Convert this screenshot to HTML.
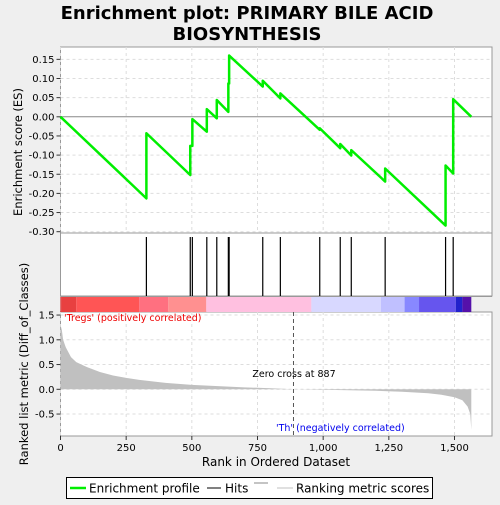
<!DOCTYPE html>
<html><head><meta charset="utf-8"><style>
body{margin:0;background:#efefef;font-family:"Liberation Sans","DejaVu Sans",sans-serif}
</style></head><body>
<svg id="c" width="500" height="500" xmlns="http://www.w3.org/2000/svg" font-family="DejaVu Sans, Liberation Sans, sans-serif">
<rect width="500" height="500" fill="#efefef"/>
<text x="247" y="19" text-anchor="middle" font-size="18" font-weight="bold">Enrichment plot: PRIMARY BILE ACID</text>
<text x="247" y="40" text-anchor="middle" font-size="18" font-weight="bold">BIOSYNTHESIS</text>
<g id="g"></g>
</svg>
<script>
const hitRanks=[327,494,502,557,595,639,642,770,837,987,1065,1107,1236,1466,1495];
const esBefore=[-0.213,-0.152,-0.076,-0.039,-0.004,0.013,0.087,0.079,0.048,-0.034,-0.082,-0.101,-0.169,-0.284,-0.148];
const esAfter=[-0.043,-0.076,-0.006,0.020,0.044,0.087,0.160,0.094,0.061,-0.030,-0.071,-0.087,-0.135,-0.127,0.046];
const nGenes=1564;
const metricRanks=[0,5,10,20,40,60,100,150,200,250,300,400,500,600,700,800,887,1000,1100,1200,1300,1400,1450,1500,1530,1550,1560,1564];
const metricVals=[1.3,1.2,1.0,0.85,0.65,0.55,0.45,0.35,0.28,0.23,0.19,0.13,0.09,0.065,0.04,0.02,0,-0.01,-0.02,-0.03,-0.05,-0.08,-0.11,-0.16,-0.22,-0.35,-0.5,-0.82];
const xTicks=[0,250,500,750,1000,1250,1500];
const xTickLabels=["0","250","500","750","1,000","1,250","1,500"];
const esTicks=[0.15,0.10,0.05,0.00,-0.05,-0.10,-0.15,-0.20,-0.25,-0.30];
const mTicks=[1.5,1.0,0.5,0.0,-0.5];
const heatStops=[0,3,60,300,410,555,955,1220,1310,1365,1505,1530];
const heatColors=["#cc0000","#e84040","#ff5555","#ff7080","#ff9090","#ffc0e0","#d8d8ff","#c0c0ff","#8888ff","#6655ee","#2222cc","#5511aa"];
const X0=60.5,X1=492,XS=394/1500;
const x=r=>X0+r*XS;
const ye=v=>116.8-v*383;
const ym=v=>389.3-v*49.5;
const g=document.getElementById('g');
const NS='http://www.w3.org/2000/svg';
function mk(t,a,p){const e=document.createElementNS(NS,t);for(const k in a)e.setAttribute(k,a[k]);(p||g).appendChild(e);return e;}
// panels
let p1=mk('rect',{x:X0,y:47,width:X1-X0,height:186,fill:'#fff',stroke:'#999'});

let p2=mk('rect',{x:X0,y:233,width:X1-X0,height:63,fill:'#fff',stroke:'#999'});

let p3=mk('rect',{x:X0,y:312,width:X1-X0,height:124,fill:'#fff',stroke:'#999'});

// grid
xTicks.forEach(t=>{
 let l=mk('line',{x1:x(t),x2:x(t),y1:47,y2:233,stroke:'#ddd','stroke-dasharray':'3,3'});
 
 let l2=mk('line',{x1:x(t),x2:x(t),y1:312,y2:436,stroke:'#ddd','stroke-dasharray':'3,3'});
 
 let tk=mk('line',{x1:x(t),x2:x(t),y1:436,y2:440,stroke:'#333'});
 
 let tx=mk('text',{x:x(t),y:451,'text-anchor':'middle','font-size':10});
 tx.textContent=xTickLabels[xTicks.indexOf(t)];
 
});
esTicks.forEach(t=>{
 let l=mk('line',{x1:X0,x2:X1,y1:ye(t),y2:ye(t),stroke:t===0?'#888':'#ddd','stroke-dasharray':t===0?'':'3,3'});
 
 let tk=mk('line',{x1:X0-4,x2:X0,y1:ye(t),y2:ye(t),stroke:'#333'});
 
 let tx=mk('text',{x:X0-6,y:ye(t)+3.5,'text-anchor':'end','font-size':10});
 tx.textContent=t.toFixed(2);
 
});
mTicks.forEach(t=>{
 let l=mk('line',{x1:X0,x2:X1,y1:ym(t),y2:ym(t),stroke:'#ddd','stroke-dasharray':'3,3'});
 
 let tk=mk('line',{x1:X0-4,x2:X0,y1:ym(t),y2:ym(t),stroke:'#333'});
 
 let tx=mk('text',{x:X0-6,y:ym(t)+3.5,'text-anchor':'end','font-size':10});
 tx.textContent=t.toFixed(1);
 
});
// heatmap
heatStops.forEach((s,i)=>{
 const e=i<heatStops.length-1?heatStops[i+1]:nGenes;
 let r=mk('rect',{x:x(s),y:297,width:x(e)-x(s),height:15,fill:heatColors[i]});
 
});
let hl=mk('line',{x1:X0,x2:X1,y1:296.5,y2:296.5,stroke:'#999'});

// hits
hitRanks.forEach(r=>{
 let l=mk('line',{x1:x(r),x2:x(r),y1:237,y2:296,stroke:'#000','stroke-width':1.2});
 
});
// metric area
let d='M'+x(0)+','+ym(0);
metricRanks.forEach((r,i)=>{d+=' L'+x(r)+','+ym(metricVals[i]);});
d+=' L'+x(nGenes)+','+ym(0)+' Z';
let ma=mk('path',{d:d,fill:'#c0c0c0'});

// zero cross
let zc=mk('line',{x1:x(887),x2:x(887),y1:312,y2:436,stroke:'#555','stroke-dasharray':'4,3'});

let zt=mk('text',{x:294,y:377,'text-anchor':'middle','font-size':9.5});zt.textContent='Zero cross at 887';

let t1=mk('text',{x:64,y:321,'font-size':9.5,fill:'#e00'});t1.textContent="'Tregs' (positively correlated)";

let t2=mk('text',{x:276,y:431,'font-size':9.5,fill:'#00e'});t2.textContent="'Th' (negatively correlated)";

// ES line
let pts=[[x(0),ye(0)]];
hitRanks.forEach((r,i)=>{pts.push([x(r),ye(esBefore[i])]);pts.push([x(r),ye(esAfter[i])]);});
pts.push([x(nGenes),ye(0)]);
let es=mk('polyline',{points:pts.map(p=>p.join(',')).join(' '),fill:'none',stroke:'#00ee00','stroke-width':2.5,'stroke-linejoin':'round'});

// axis titles
let a1=mk('text',{x:0,y:0,'font-size':11.5,'text-anchor':'middle',transform:'translate(22,152) rotate(-90)'});a1.textContent='Enrichment score (ES)';

let a2=mk('text',{x:0,y:0,'font-size':11.5,'text-anchor':'middle',transform:'translate(28,364) rotate(-90)'});a2.textContent='Ranked list metric (Diff_of_Classes)';

let a3=mk('text',{x:276,y:466,'font-size':12,'text-anchor':'middle'});a3.textContent='Rank in Ordered Dataset';

// legend
let lg=mk('rect',{x:66.5,y:477.5,width:366,height:21,fill:'#fff',stroke:'#000'});

let l1=mk('line',{x1:70,x2:86,y1:488,y2:488,stroke:'#00ee00','stroke-width':2.5});

let lt1=mk('text',{x:89,y:492.5,'font-size':12});lt1.textContent='Enrichment profile';

let l2=mk('line',{x1:207,x2:221,y1:488,y2:488,stroke:'#000'});

let lt2=mk('text',{x:225,y:492.5,'font-size':12});lt2.textContent='Hits';

let l3=mk('line',{x1:254,x2:268,y1:483,y2:483,stroke:'#888'});

let l4=mk('line',{x1:277,x2:293,y1:488,y2:488,stroke:'#c0c0c0'});

let lt3=mk('text',{x:296,y:492.5,'font-size':12});lt3.textContent='Ranking metric scores';

</script>
</body></html>
